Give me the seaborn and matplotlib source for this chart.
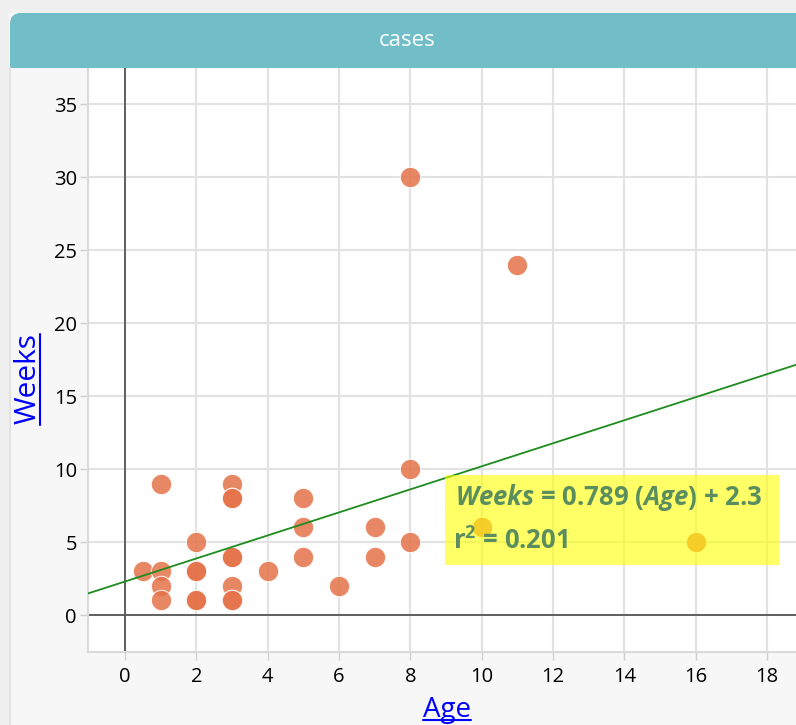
"""
Scatter of case Weeks vs Age with a fitted least-squares line,
styled like the 'cases' graph card.
"""

import matplotlib
matplotlib.use("Agg")
import matplotlib.pyplot as plt
from matplotlib.patches import Rectangle, FancyBboxPatch
from matplotlib.lines import Line2D
import seaborn as sns

# ------------------------------------------------------------------ data
ages = [0.5, 1, 1, 1, 1, 2, 2, 2, 2, 2, 3, 3, 3, 3, 3, 3, 3, 3,
        4, 5, 5, 5, 6, 7, 7, 8, 8, 8, 10, 11, 16]
weeks = [3, 9, 3, 2, 1, 5, 3, 3, 1, 1, 9, 8, 8, 4, 4, 2, 1, 1,
         3, 8, 6, 4, 2, 6, 4, 30, 10, 5, 6, 24, 5]

slope = 0.789
intercept = 2.3
r_squared = 0.201

x_ticks = [0, 2, 4, 6, 8, 10, 12, 14, 16, 18]
y_ticks = [0, 5, 10, 15, 20, 25, 30, 35]

sns.set_theme(style="whitegrid")
plt.rcParams["font.family"] = ["Open Sans", "DejaVu Sans"]
plt.rcParams["mathtext.fontset"] = "custom"
plt.rcParams["mathtext.rm"] = "Open Sans:bold"
plt.rcParams["mathtext.it"] = "Open Sans:italic:bold"
plt.rcParams["mathtext.bf"] = "Open Sans:bold"

W, H = 796, 725
fig = plt.figure(figsize=(W / 100, H / 100), dpi=100, facecolor="#F7F7F7")

# card background / frame
fig.patches.append(Rectangle((0, 1 - 13 / H), 1, 13 / H, transform=fig.transFigure,
                             facecolor="#F0F0F0", edgecolor="none", zorder=0))
fig.patches.append(Rectangle((0, 0), 9 / W, 1, transform=fig.transFigure,
                             facecolor="#F0F0F0", edgecolor="none", zorder=0))
fig.add_artist(Line2D([9.5 / W, 9.5 / W], [0, 1 - 68 / H], transform=fig.transFigure,
                      color="#E2E2E2", lw=1.5))

# teal header with rounded top corners
fig.patches.append(FancyBboxPatch((10, H - 68), W + 20, 55, transform=None,
                                  boxstyle="round,pad=0,rounding_size=11",
                                  facecolor="#72BEC8", edgecolor="none", zorder=1))
fig.patches.append(Rectangle((10, H - 68), W, 20, transform=None,
                             facecolor="#72BEC8", edgecolor="none", zorder=1))
fig.text(407 / W, 1 - 41 / H, "cases", color="white", fontsize=16,
         ha="center", va="center")

# ------------------------------------------------------------------ plot
ax = fig.add_axes([88 / W, 1 - 652 / H, (W - 88) / W, (652 - 68) / H])
ax.set_facecolor("white")

sns.scatterplot(x=ages, y=weeks, ax=ax, s=215, color="#E57249", alpha=0.85,
                edgecolor="white", linewidth=0.8, zorder=3, legend=False)
ax.axline((0, intercept), slope=slope, color="#1E8C1E", lw=1.3, zorder=4)

ax.axhline(0, color="#555555", lw=1.3, zorder=2)
ax.axvline(0, color="#555555", lw=1.3, zorder=2)

ax.set_xlim(-1.04, 18.81)
ax.set_ylim(-2.53, 37.47)
ax.set_xticks(x_ticks)
ax.set_yticks(y_ticks)
ax.grid(True, color="#E2E2E2", lw=1.5)
ax.tick_params(axis="both", length=6, width=1, color="#D0D0D0",
               labelsize=14.5, labelcolor="black", pad=2)
ax.tick_params(axis="x", bottom=True, pad=5)
ax.tick_params(axis="y", left=True)
for side in ["top", "right"]:
    ax.spines[side].set_visible(False)
for side in ["left", "bottom"]:
    ax.spines[side].set_color("#DADADA")
    ax.spines[side].set_linewidth(1.5)

# least-squares equation box
ax.add_patch(Rectangle((0.504, 0.149), 0.472, 0.154, transform=ax.transAxes,
                       facecolor="#FFFF00", alpha=0.6, edgecolor="none", zorder=5))
ax.text(0.518, 0.265, f"$\\mathit{{Weeks}}$ = {slope} ($\\mathit{{Age}}$) + {intercept}",
        transform=ax.transAxes, fontsize=18.5, fontweight="bold", color="#5B8E5E",
        ha="left", va="center", zorder=6)
ax.text(0.516, 0.190, f"r$^{{2}}$ = {r_squared}", transform=ax.transAxes,
        fontsize=18.5, fontweight="bold", color="#5B8E5E",
        ha="left", va="center", zorder=6)

# axis labels (blue, underlined like links)
age_lbl = fig.text(447 / W, 1 - 717 / H, "Age", color="#0000FF", fontsize=20,
                   ha="center", va="baseline")
weeks_lbl = fig.text(36 / W, 1 - 379 / H, "Weeks", color="#0000FF", fontsize=21.5,
                     rotation=90, rotation_mode="anchor", ha="center", va="baseline")

fig.canvas.draw()
rend = fig.canvas.get_renderer()
bb = age_lbl.get_window_extent(rend)
fig.add_artist(Line2D([bb.x0, bb.x1], [H - 720, H - 720], transform=None,
                      color="#0000FF", lw=1.5))
bb = weeks_lbl.get_window_extent(rend)
fig.add_artist(Line2D([40, 40], [bb.y0, bb.y1], transform=None,
                      color="#0000FF", lw=1.5))

fig.savefig("out.png", dpi=100, facecolor=fig.get_facecolor())
